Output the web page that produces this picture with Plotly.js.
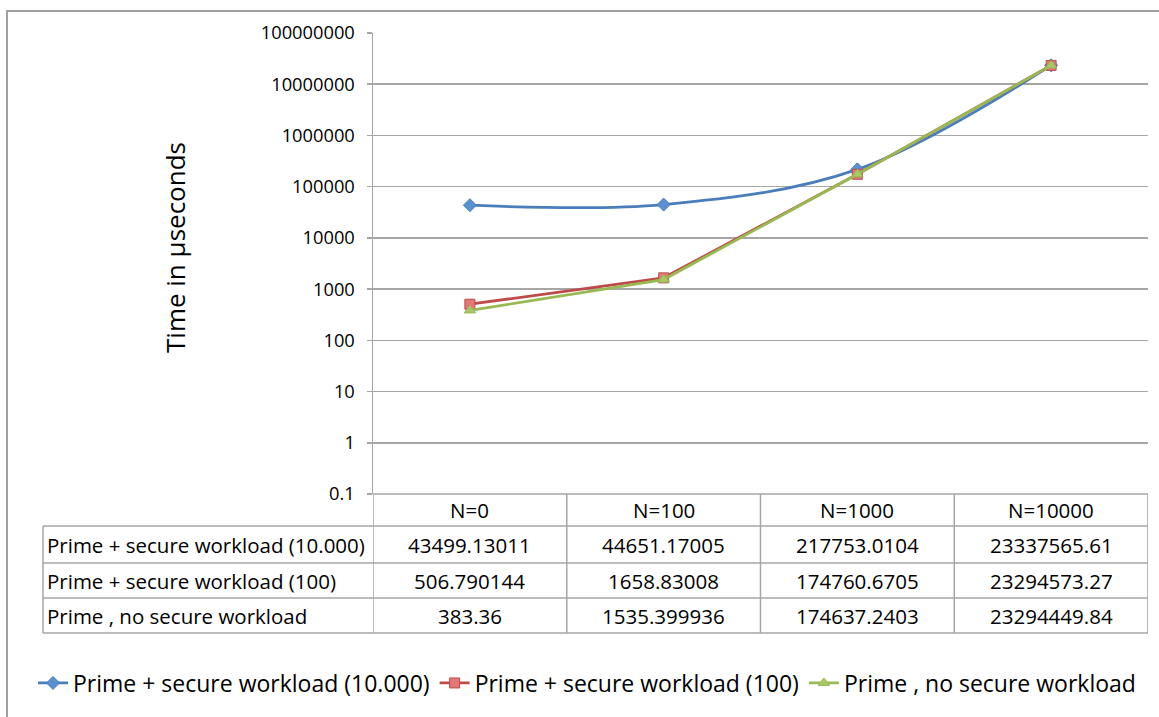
<!DOCTYPE html>
<html>
<head>
<meta charset="utf-8">
<script src="https://cdn.plot.ly/plotly-3.0.1.min.js"></script>
<style>
html,body{margin:0;padding:0;background:#fff;}
#chart{width:1159px;height:717px;}
</style>
</head>
<body>
<div id="chart"></div>
<script>
// ---- data ----
const categories = ["N=0", "N=100", "N=1000", "N=10000"];
const seriesNames = [
  "Prime + secure workload (10.000)",
  "Prime + secure workload (100)",
  "Prime , no secure workload"
];
const secure10000 = [43499.13011, 44651.17005, 217753.0104, 23337565.61];
const secure100 = [506.790144, 1658.83008, 174760.6705, 23294573.27];
const noSecure = [383.36, 1535.399936, 174637.2403, 23294449.84];
const secure10000Text = ["43499.13011", "44651.17005", "217753.0104", "23337565.61"];
const secure100Text = ["506.790144", "1658.83008", "174760.6705", "23294573.27"];
const noSecureText = ["383.36", "1535.399936", "174637.2403", "23294449.84"];
const yTickVals = [0.1, 1, 10, 100, 1000, 10000, 100000, 1000000, 10000000, 100000000];
const yTickText = ["0.1", "1", "10", "100", "1000", "10000", "100000", "1000000", "10000000", "100000000"];
const yTitle = "Time in µseconds";

// ---- layout geometry ----
const W = 1159, H = 717;
const L = 373, R = 1148, T = 33, B = 494;
const pw = R - L, ph = B - T;
const px2x = p => (p - L) / pw;
const px2y = p => (B - p) / ph;
const FONT = "'Open Sans', sans-serif";
const gridCol = "#a6a6a6";

const colors = ["#4a7ebb", "#be4b48", "#98b954"];
const fills = ["#5b8fd0", "#e07a78", "#a8c865"];
const symbols = ["diamond", "square", "triangle-up"];
const values = [secure10000, secure100, noSecure];
const texts = [secure10000Text, secure100Text, noSecureText];

const traces = values.map((v, i) => ({
  type: "scatter",
  mode: "lines+markers",
  name: seriesNames[i],
  x: categories,
  y: v,
  line: {color: colors[i], width: 2.8, shape: i === 0 ? "spline" : "linear", smoothing: 1},
  marker: {symbol: symbols[i], size: 10, color: fills[i], line: {color: colors[i], width: 1}}
}));

// table rows (pixel borders)
const rowBorders = [494, 526, 563, 598, 633];
const tableLeft = 43;
const shapes = [];
const lineStyle = {color: gridCol, width: 1.5};
// outer chart border
shapes.push({type: "rect", xref: "paper", yref: "paper",
  x0: px2x(7), x1: px2x(1175), y0: px2y(740), y1: px2y(11),
  line: {color: "#a0a0a0", width: 2}, layer: "below"});
// horizontal table lines
rowBorders.forEach((p, k) => {
  shapes.push({type: "line", xref: "paper", yref: "paper",
    x0: k === 0 ? 0 : px2x(tableLeft), x1: 1, y0: px2y(p), y1: px2y(p), line: lineStyle});
});
// vertical table lines at category boundaries
for (let k = 0; k <= categories.length; k++) {
  shapes.push({type: "line", xref: "x", yref: "paper",
    x0: k - 0.5, x1: k - 0.5, y0: px2y(rowBorders[0]), y1: px2y(rowBorders[4]), line: lineStyle});
}
shapes.push({type: "line", xref: "paper", yref: "paper",
  x0: px2x(tableLeft), x1: px2x(tableLeft), y0: px2y(rowBorders[1]), y1: px2y(rowBorders[4]), line: lineStyle});

// table text
const annotations = [];
const tFont = {family: FONT, size: 20.5, color: "#000"};
const rowCenter = k => px2y((rowBorders[k] + rowBorders[k + 1]) / 2);
categories.forEach((c, j) => {
  annotations.push({xref: "x", yref: "paper", x: j, y: rowCenter(0), text: c, showarrow: false,
    xanchor: "center", yanchor: "middle", font: tFont});
});
seriesNames.forEach((n, i) => {
  annotations.push({xref: "paper", yref: "paper", x: px2x(tableLeft + 2), y: rowCenter(i + 1), text: n,
    showarrow: false, xanchor: "left", yanchor: "middle", font: tFont});
  texts[i].forEach((t, j) => {
    annotations.push({xref: "x", yref: "paper", x: j, y: rowCenter(i + 1), text: t, showarrow: false,
      xanchor: "center", yanchor: "middle", font: tFont});
  });
});
// y-axis title (placed as rotated text to match the reference position)
annotations.push({xref: "paper", yref: "paper", x: px2x(175), y: px2y(248), text: yTitle,
  textangle: -90, showarrow: false, xanchor: "center", yanchor: "middle",
  font: {family: FONT, size: 26, color: "#000"}});

const layout = {
  width: W, height: H,
  margin: {l: L, r: W - R, t: T, b: H - B, pad: 0},
  paper_bgcolor: "#fff", plot_bgcolor: "#fff",
  font: {family: FONT, color: "#000"},
  showlegend: true,
  legend: {orientation: "h", x: px2x(33), xanchor: "left", y: px2y(683), yanchor: "middle",
    font: {family: FONT, size: 23, color: "#000"}, bgcolor: "rgba(0,0,0,0)", traceorder: "normal"},
  xaxis: {type: "category", categoryorder: "array", categoryarray: categories, range: [-0.5, 3.5],
    showticklabels: false, showgrid: false, zeroline: false, showline: false, ticks: "", fixedrange: true},
  yaxis: {type: "log", range: [-1, 8], tickvals: yTickVals, ticktext: yTickText,
    tickfont: {family: FONT, size: 18.3, color: "#000"},
    showgrid: true, gridcolor: gridCol, gridwidth: 1.5,
    showline: true, linecolor: gridCol, linewidth: 1.5,
    ticks: "outside", ticklen: 5, tickcolor: gridCol, tickwidth: 1.5, ticklabelstandoff: 8,
    zeroline: false},
  shapes: shapes,
  annotations: annotations
};

Plotly.newPlot("chart", traces, layout, {displayModeBar: false, staticPlot: true});
</script>
</body>
</html>
